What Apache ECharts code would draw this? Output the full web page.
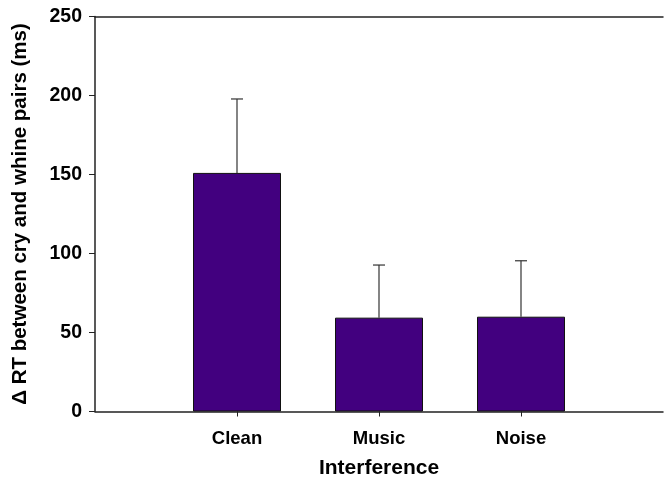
<!DOCTYPE html>
<html>
<head>
<meta charset="utf-8">
<script src="https://cdn.jsdelivr.net/npm/echarts@6/dist/echarts.min.js"></script>
<style>
html,body{margin:0;padding:0;background:#fff;}
#chart{width:666px;height:487px;}
</style>
</head>
<body>
<div id="chart"></div>
<script>
var categories = ['Clean', 'Music', 'Noise'];
var meanValues = [151, 59.4, 60];
var errorTops = [197.8, 92.7, 95.4];
var yTicks = [0, 50, 100, 150, 200, 250];

var axisCats = [''].concat(categories).concat(['']);
var FONT = '"Liberation Sans", Arial, sans-serif';

var chart = echarts.init(document.getElementById('chart'));
var barData = categories.map(function (c, i) { return [c, meanValues[i]]; });
var errData = categories.map(function (c, i) { return [c, meanValues[i], errorTops[i]]; });

chart.setOption({
  animation: false,
  backgroundColor: '#ffffff',
  grid: { left: 95, top: 16.5, width: 582, height: 395 },
  xAxis: [{
    type: 'category',
    data: axisCats,
    boundaryGap: false,
    position: 'bottom',
    name: 'Interference',
    nameLocation: 'middle',
    nameGap: 46,
    nameTextStyle: { fontFamily: FONT, fontWeight: 'bold', fontSize: 21, color: '#000' },
    axisLine: { show: true, lineStyle: { color: '#222', width: 1.5 } },
    axisTick: { show: true, length: 5, lineStyle: { color: '#222' },
      interval: function (idx) { return idx >= 1 && idx <= categories.length; } },
    axisLabel: { interval: 0, margin: 18, fontFamily: FONT, fontWeight: 'bold', fontSize: 18.5, color: '#000' },
    splitLine: { show: false }
  }, {
    type: 'category',
    data: axisCats,
    boundaryGap: false,
    position: 'top',
    axisLine: { show: true, lineStyle: { color: '#222', width: 1.5 } },
    axisTick: { show: false },
    axisLabel: { show: false },
    splitLine: { show: false }
  }],
  yAxis: {
    type: 'value',
    min: yTicks[0],
    max: yTicks[yTicks.length - 1],
    interval: 50,
    name: '\u0394 RT between cry and whine pairs (ms)',
    nameLocation: 'middle',
    nameGap: 64,
    nameTextStyle: { fontFamily: FONT, fontWeight: 'bold', fontSize: 20.5, color: '#000' },
    axisLine: { show: true, lineStyle: { color: '#222', width: 1.5 } },
    axisTick: { show: true, length: 6, lineStyle: { color: '#222' } },
    axisLabel: { margin: 13, fontFamily: FONT, fontWeight: 'bold', fontSize: 19.5, color: '#000' },
    splitLine: { show: false }
  },
  series: [{
    type: 'bar',
    data: barData,
    barWidth: 88,
    itemStyle: { color: '#42007f', borderColor: '#111', borderWidth: 1 },
    z: 2
  }, {
    type: 'custom',
    data: errData,
    z: 3,
    renderItem: function (params, api) {
      var x = api.value(0);
      var base = api.coord([x, api.value(1)]);
      var top = api.coord([x, api.value(2)]);
      var half = 6;
      var style = { stroke: '#333', lineWidth: 1.2 };
      return {
        type: 'group',
        children: [
          { type: 'line', shape: { x1: base[0], y1: base[1], x2: top[0], y2: top[1] }, style: style },
          { type: 'line', shape: { x1: top[0] - half, y1: top[1], x2: top[0] + half, y2: top[1] }, style: style }
        ]
      };
    }
  }]
});
</script>
</body>
</html>
